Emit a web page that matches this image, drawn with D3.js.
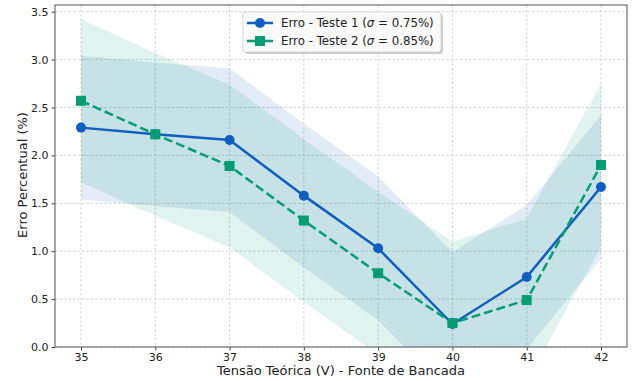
<!DOCTYPE html>
<html>
<head>
<meta charset="utf-8">
<script src="https://cdn.jsdelivr.net/npm/d3@7"></script>
<style>
  body { margin: 0; background: #fff; }
  svg { font-family: "DejaVu Sans", sans-serif; }
</style>
</head>
<body>
<div id="chart"></div>
<script>
// data
var tensoes = [35, 36, 37, 38, 39, 40, 41, 42];
var erroTeste1 = [2.29, 2.22, 2.16, 1.58, 1.03, 0.24, 0.73, 1.67];
var erroTeste2 = [2.57, 2.22, 1.89, 1.32, 0.77, 0.25, 0.49, 1.90];
var sigma1 = 0.75, sigma2 = 0.85;
var yTicks = [0, 0.5, 1.0, 1.5, 2.0, 2.5, 3.0, 3.5];

var width = 634, height = 381;
var margin = {left: 55, right: 7, top: 5, bottom: 34};
var blue = '#0f5fc0', green = '#029e73';

var svg = d3.select('#chart').append('svg')
  .attr('width', width)
  .attr('height', height);

var x = d3.scaleLinear()
  .domain([34.65, 42.35])
  .range([margin.left, width - margin.right]);

var y = d3.scaleLinear()
  .domain([0, 3.57])
  .range([height - margin.bottom, margin.top]);

svg.append('defs').append('clipPath').attr('id', 'plotclip')
  .append('rect')
  .attr('x', margin.left).attr('y', margin.top)
  .attr('width', width - margin.left - margin.right)
  .attr('height', height - margin.top - margin.bottom);

// grid
var grid = svg.append('g');
grid.selectAll('.gx').data(tensoes).enter().append('line')
  .attr('x1', d => x(d)).attr('x2', d => x(d))
  .attr('y1', margin.top).attr('y2', height - margin.bottom)
  .attr('stroke', '#c8c8c8').attr('stroke-width', 0.8).attr('stroke-dasharray', '2.5,2');
grid.selectAll('.gy').data(yTicks).enter().append('line')
  .attr('y1', d => y(d)).attr('y2', d => y(d))
  .attr('x1', margin.left).attr('x2', width - margin.right)
  .attr('stroke', '#c8c8c8').attr('stroke-width', 0.8).attr('stroke-dasharray', '2.5,2');

var plot = svg.append('g').attr('clip-path', 'url(#plotclip)');

// bands (mean +- sigma)
function band(vals, s) {
  return d3.area()
    .x((d, i) => x(tensoes[i]))
    .y0(d => y(d - s))
    .y1(d => y(d + s))(vals);
}
plot.append('path').attr('d', band(erroTeste1, sigma1))
  .attr('fill', blue).attr('fill-opacity', 0.12);
plot.append('path').attr('d', band(erroTeste2, sigma2))
  .attr('fill', green).attr('fill-opacity', 0.12);

var line = d3.line().x((d, i) => x(tensoes[i])).y(d => y(d));

plot.append('path').attr('d', line(erroTeste1))
  .attr('fill', 'none').attr('stroke', blue).attr('stroke-width', 2.5);
plot.selectAll('.m1').data(erroTeste1).enter().append('circle')
  .attr('cx', (d, i) => x(tensoes[i])).attr('cy', d => y(d))
  .attr('r', 5).attr('fill', blue);

plot.append('path').attr('d', line(erroTeste2))
  .attr('fill', 'none').attr('stroke', green).attr('stroke-width', 2.5)
  .attr('stroke-dasharray', '9,4');
plot.selectAll('.m2').data(erroTeste2).enter().append('rect')
  .attr('x', (d, i) => x(tensoes[i]) - 5).attr('y', d => y(d) - 5)
  .attr('width', 10).attr('height', 10).attr('fill', green);

// axes
var xAxis = svg.append('g')
  .attr('transform', 'translate(0,' + (height - margin.bottom) + ')')
  .call(d3.axisBottom(x).tickValues(tensoes).tickFormat(d3.format('d')).tickSizeOuter(0).tickSize(3.5).tickPadding(2.5));
var yAxis = svg.append('g')
  .attr('transform', 'translate(' + margin.left + ',0)')
  .call(d3.axisLeft(y).tickValues(yTicks).tickFormat(d3.format('.1f')).tickSizeOuter(0).tickSize(3.5).tickPadding(3));
[xAxis, yAxis].forEach(function(a) {
  a.select('.domain').remove();
  a.selectAll('line').attr('stroke', '#444');
  a.selectAll('text').attr('font-size', 11).attr('fill', '#222')
    .attr('font-family', '"DejaVu Sans", sans-serif');
});

// frame
svg.append('rect')
  .attr('x', margin.left).attr('y', margin.top)
  .attr('width', width - margin.left - margin.right)
  .attr('height', height - margin.top - margin.bottom)
  .attr('fill', 'none').attr('stroke', '#555').attr('stroke-width', 1);

// labels
svg.append('text')
  .attr('x', (margin.left + width - margin.right) / 2)
  .attr('y', 375)
  .attr('text-anchor', 'middle')
  .attr('font-size', 13).attr('fill', '#222')
  .text('Tensão Teórica (V) - Fonte de Bancada');
svg.append('text')
  .attr('transform', 'rotate(-90)')
  .attr('x', -175)
  .attr('y', 27)
  .attr('text-anchor', 'middle')
  .attr('font-size', 13).attr('fill', '#222')
  .text('Erro Percentual (%)');

// legend
var lg = svg.append('g').attr('transform', 'translate(243,12)');
lg.append('rect').attr('x', 2).attr('y', 2).attr('width', 198).attr('height', 40)
  .attr('rx', 3).attr('fill', '#999').attr('opacity', 0.5);
lg.append('rect').attr('width', 198).attr('height', 40).attr('rx', 3)
  .attr('fill', '#fff').attr('fill-opacity', 0.9).attr('stroke', '#d6d6d6');
var entries = [
  {c: blue, shape: 'circle', name: 'Erro - Teste 1 (', s: ' = 0.75%)'},
  {c: green, shape: 'square', name: 'Erro - Teste 2 (', s: ' = 0.85%)'}
];
entries.forEach(function(e, i) {
  var g = lg.append('g').attr('transform', 'translate(0,' + (11 + i * 18) + ')');
  g.append('line').attr('x1', 4).attr('x2', 30).attr('y1', 0).attr('y2', 0)
    .attr('stroke', e.c).attr('stroke-width', 2.5);
  if (e.shape === 'circle') {
    g.append('circle').attr('cx', 17).attr('cy', 0).attr('r', 5).attr('fill', e.c);
  } else {
    g.append('rect').attr('x', 12).attr('y', -5).attr('width', 10).attr('height', 10).attr('fill', e.c);
  }
  var t = g.append('text').attr('x', 38).attr('y', 4)
    .attr('font-size', 11.8).attr('fill', '#222');
  t.append('tspan').text(e.name);
  t.append('tspan').attr('font-style', 'italic').text('σ');
  t.append('tspan').text(e.s);
});
</script>
</body>
</html>
